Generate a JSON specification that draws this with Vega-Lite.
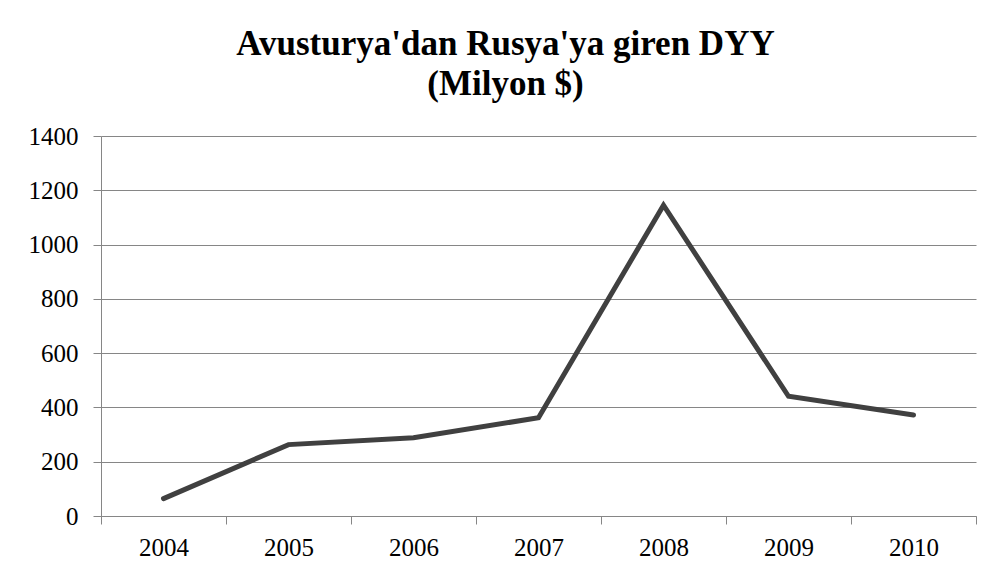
{
  "$schema": "https://vega.github.io/schema/vega-lite/v6.json",
  "width": 875,
  "height": 380,
  "autosize": {"type": "none"},
  "padding": {"left": 101, "top": 136, "right": 29, "bottom": 62},
  "background": "white",
  "title": {
    "text": ["Avusturya'dan Rusya'ya giren DYY", "(Milyon $)"],
    "font": "Times New Roman, Liberation Serif, DejaVu Serif, serif",
    "fontSize": 35,
    "fontWeight": "bold",
    "color": "black",
    "anchor": "middle",
    "frame": "group",
    "dx": -33,
    "lineHeight": 40,
    "offset": 22
  },
  "data": {
    "values": [
      {"year": "2004", "value": 64},
      {"year": "2005", "value": 263},
      {"year": "2006", "value": 288},
      {"year": "2007", "value": 362},
      {"year": "2008", "value": 1145},
      {"year": "2009", "value": 441},
      {"year": "2010", "value": 372}
    ]
  },
  "mark": {"type": "line", "color": "#404040", "strokeWidth": 5, "strokeCap": "round", "strokeJoin": "miter"},
  "encoding": {
    "x": {
      "field": "year",
      "type": "ordinal",
      "scale": {"type": "band", "paddingInner": 0, "paddingOuter": 0},
      "axis": {
        "title": null,
        "labelAngle": 0,
        "tickBand": "extent",
        "tickSize": 8,
        "tickColor": "#868686",
        "domainColor": "#868686",
        "labelFont": "Times New Roman, Liberation Serif, DejaVu Serif, serif",
        "labelFontSize": 25,
        "labelColor": "black",
        "labelPadding": 11,
        "grid": false
      }
    },
    "y": {
      "field": "value",
      "type": "quantitative",
      "scale": {"domain": [0, 1400], "nice": false},
      "axis": {
        "title": null,
        "format": "d",
        "values": [0, 200, 400, 600, 800, 1000, 1200, 1400],
        "tickSize": 8,
        "tickColor": "#868686",
        "domainColor": "#868686",
        "gridColor": "#868686",
        "labelFont": "Times New Roman, Liberation Serif, DejaVu Serif, serif",
        "labelFontSize": 25,
        "labelColor": "black",
        "labelPadding": 15
      }
    }
  },
  "config": {
    "view": {"stroke": null}
  }
}
